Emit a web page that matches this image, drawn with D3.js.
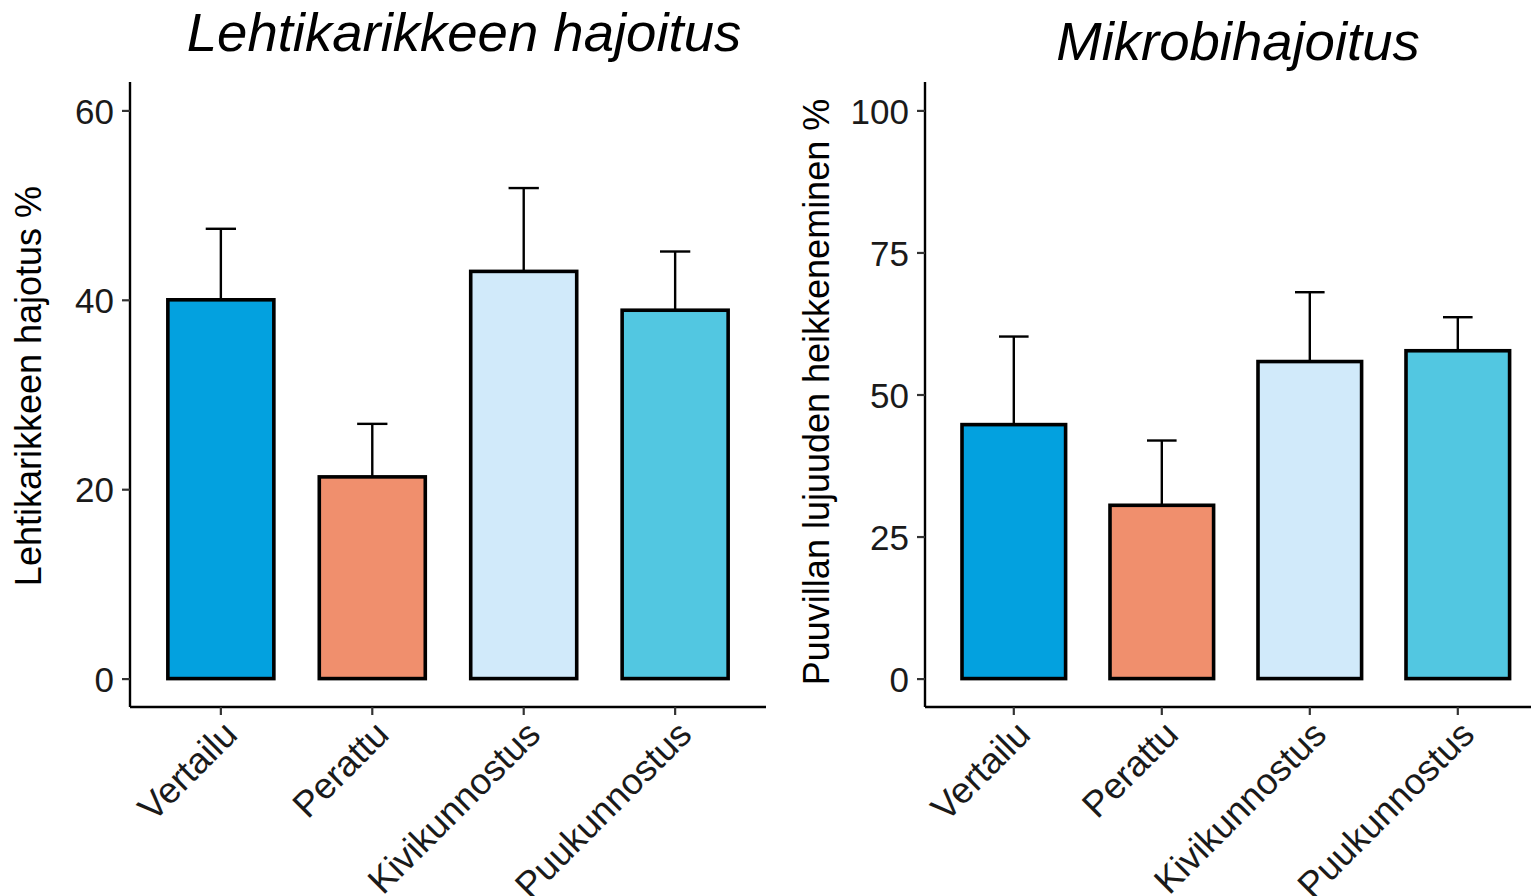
<!DOCTYPE html>
<html>
<head>
<meta charset="utf-8">
<script src="https://cdn.jsdelivr.net/npm/d3@7"></script>
<style>
  body { margin: 0; background: #fff; }
  text { font-family: "Liberation Sans", Arial, sans-serif; }
</style>
</head>
<body>
<svg id="chart" width="1531" height="896"></svg>
<script>
// Treatments and their fill colours
const categories = ["Vertailu", "Perattu", "Kivikunnostus", "Puukunnostus"];
const barColors = ["#03A1DF", "#F08F6D", "#D1EAFA", "#52C7E1"];

// Leaf litter decomposition (%): means and upper error limits
const litterMeans = [40, 21.3, 43, 38.9];
const litterUpper = [47.5, 26.9, 51.8, 45.1];
const litterTicks = [0, 20, 40, 60];

// Cotton strength loss (%): means and upper error limits
const cottonMeans = [44.7, 30.5, 55.8, 57.7];
const cottonUpper = [60.2, 41.9, 68, 63.6];
const cottonTicks = [0, 25, 50, 75, 100];

const svg = d3.select("#chart");

const panels = [
  {
    title: "Lehtikarikkeen hajoitus", titleX: 464, titleY: 51,
    ylabel: "Lehtikarikkeen hajotus %", ylabX: 41, ylabY: 386,
    means: litterMeans, upper: litterUpper, ticks: litterTicks,
    domain: [-3, 63], left: 130, right: 766
  },
  {
    title: "Mikrobihajoitus", titleX: 1238, titleY: 60,
    ylabel: "Puuvillan lujuuden heikkeneminen %", ylabX: 829, ylabY: 392,
    means: cottonMeans, upper: cottonUpper, ticks: cottonTicks,
    domain: [-5, 105], left: 925, right: 925 + 4.2 * 148
  }
];

const plotTop = 82, plotBottom = 707;

panels.forEach(p => {
  const g = svg.append("g");

  // discrete x positions: 0.6 unit expansion each side, bars 0.7 units wide
  const x = d3.scaleBand()
    .domain(categories)
    .range([p.left, p.right])
    .paddingInner(0.3)
    .paddingOuter(0.25);

  const y = d3.scaleLinear().domain(p.domain).range([plotBottom, plotTop]);

  const capHalf = x.step() * 0.1;
  const data = categories.map((c, i) => ({ c, mean: p.means[i], upper: p.upper[i], color: barColors[i] }));

  // error bars (upper half only)
  const eb = g.append("g").attr("stroke", "#000").attr("stroke-width", 2.4).attr("fill", "none");
  eb.selectAll("line.v").data(data).join("line")
    .attr("class", "v")
    .attr("x1", d => x(d.c) + x.bandwidth() / 2)
    .attr("x2", d => x(d.c) + x.bandwidth() / 2)
    .attr("y1", d => y(d.mean))
    .attr("y2", d => y(d.upper));
  eb.selectAll("line.h").data(data).join("line")
    .attr("class", "h")
    .attr("x1", d => x(d.c) + x.bandwidth() / 2 - capHalf)
    .attr("x2", d => x(d.c) + x.bandwidth() / 2 + capHalf)
    .attr("y1", d => y(d.upper))
    .attr("y2", d => y(d.upper));

  // bars
  g.selectAll("rect.bar").data(data).join("rect")
    .attr("class", "bar")
    .attr("x", d => x(d.c))
    .attr("width", x.bandwidth())
    .attr("y", d => y(d.mean))
    .attr("height", d => y(0) - y(d.mean))
    .attr("fill", d => d.color)
    .attr("stroke", "#000")
    .attr("stroke-width", 3.6);

  // y axis
  const yAxis = g.append("g")
    .attr("transform", `translate(${p.left},0)`)
    .call(d3.axisLeft(y).tickValues(p.ticks).tickSize(8).tickSizeOuter(0).tickPadding(8));
  yAxis.select(".domain").attr("stroke", "#000").attr("stroke-width", 2.4)
    .attr("d", `M0,${plotTop}V${plotBottom}`);
  yAxis.selectAll(".tick line").attr("stroke", "#333").attr("stroke-width", 2.2);
  yAxis.selectAll(".tick text")
    .attr("fill", "#1a1a1a")
    .style("font-size", "35px")
    .attr("dy", "0.36em");

  // x axis
  const xAxis = g.append("g")
    .attr("transform", `translate(0,${plotBottom})`)
    .call(d3.axisBottom(x).tickSize(8).tickSizeOuter(0));
  xAxis.select(".domain").attr("stroke", "#000").attr("stroke-width", 2.4)
    .attr("d", `M${p.left},0H${p.right}`);
  xAxis.selectAll(".tick line").attr("stroke", "#333").attr("stroke-width", 2.2);
  xAxis.selectAll(".tick text")
    .attr("fill", "#1a1a1a")
    .style("font-size", "36.5px")
    .attr("text-anchor", "end")
    .attr("x", 0).attr("y", 0).attr("dy", "0.72em")
    .attr("transform", "translate(0,11) rotate(-45)");

  // y axis title
  g.append("text")
    .attr("transform", `translate(${p.ylabX},${p.ylabY}) rotate(-90)`)
    .attr("text-anchor", "middle")
    .style("font-size", "36px")
    .attr("fill", "#000")
    .text(p.ylabel);

  // panel title
  g.append("text")
    .attr("x", p.titleX).attr("y", p.titleY)
    .attr("text-anchor", "middle")
    .style("font-size", "54.5px")
    .style("font-style", "italic")
    .attr("fill", "#000")
    .text(p.title);
});
</script>
</body>
</html>
